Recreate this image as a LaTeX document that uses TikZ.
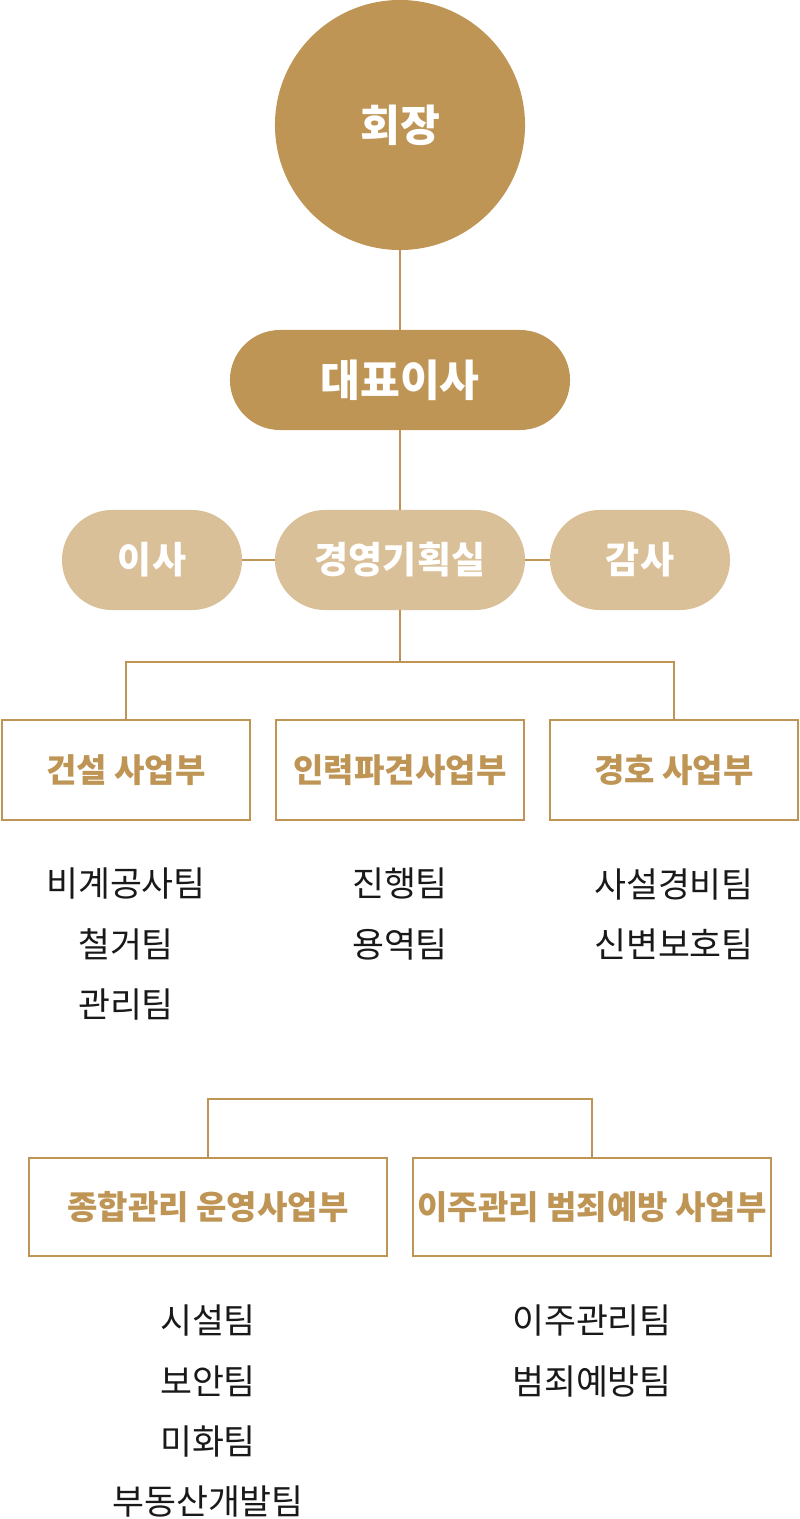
\documentclass[tikz,border=0pt]{standalone}
\usepackage{fontspec}
\setmainfont{Noto Sans CJK KR}
\usepackage{tikz}

\definecolor{gold}{HTML}{BF9556}
\definecolor{sand}{HTML}{DAC098}

\tikzset{
  link/.style={draw=gold, line width=1.4pt},
  pill/.style={rectangle, rounded corners=1.25cm, minimum height=2.5cm, inner sep=0pt,
    text=white, font=\bfseries\fontsize{26.3}{28}\selectfont},
  dept/.style={rectangle, draw=gold, line width=1.1pt, minimum height=2.5cm, inner sep=0pt,
    text=gold, font=\bfseries\fontsize{23.5}{26}\selectfont},
  teams/.style={align=center, text=black!90, inner sep=0pt,
    font=\fontsize{24.7}{42.7}\selectfont}
}

\begin{document}
\begin{tikzpicture}[x=0.025cm, y=-0.025cm]
\useasboundingbox (0,0) rectangle (800,1519);
% top
\node[circle, fill=gold, minimum size=6.25cm, inner sep=0pt, text=white,
  font=\bfseries\fontsize{30.8}{32}\selectfont] (chair) at (400,125) {회장};
\node[pill, fill=gold, minimum width=8.5cm, font=\bfseries\fontsize{30.8}{32}\selectfont] (ceo) at (400,380) {대표이사};
% staff row
\node[pill, fill=sand, minimum width=6.25cm] (plan) at (400,560) {경영기획실};
\node[pill, fill=sand, minimum width=4.5cm] (board) at (152,560) {이사};
\node[pill, fill=sand, minimum width=4.5cm] (audit) at (640,560) {감사};
\draw[link] (chair) -- (ceo);
\draw[link] (ceo) -- (plan);
\draw[link] (board) -- (plan);
\draw[link] (plan) -- (audit);
% departments
\node[dept, minimum width=6.2cm] (build) at (126,770) {건설 사업부};
\node[dept, minimum width=6.2cm] (staff) at (400,770) {인력파견사업부};
\node[dept, minimum width=6.2cm] (guard) at (674,770) {경호 사업부};
\coordinate (hub) at (400,662);
\draw[link] (plan) -- (hub);
\draw[link] (build.north) |- (hub) -| (guard.north);
% teams
\node[teams] (buildteams) at (126,944) {비계공사팀\\철거팀\\관리팀};
\node[teams] (staffteams) at (400,914) {진행팀\\용역팀};
\node[teams] (guardteams) at (674,914) {사설경비팀\\신변보호팀};
% lower departments
\node[dept, minimum width=8.95cm, minimum height=2.45cm] (manage) at (208,1207) {종합관리 운영사업부};
\node[dept, minimum width=8.95cm, minimum height=2.45cm] (move) at (592,1207) {이주관리 범죄예방 사업부};
\draw[link] (manage.north) -- ++(0,-58) -| (move.north);
% lower teams
\node[teams] (manageteams) at (208,1411) {시설팀\\보안팀\\미화팀\\부동산개발팀};
\node[teams] (moveteams) at (592,1351) {이주관리팀\\범죄예방팀};
\end{tikzpicture}
\end{document}
